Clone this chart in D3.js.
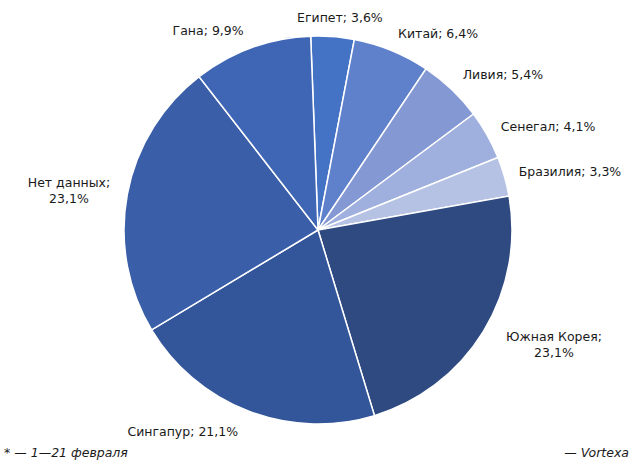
<!DOCTYPE html>
<html>
<head>
<meta charset="utf-8">
<script src="https://cdn.jsdelivr.net/npm/d3@7"></script>
<style>
  body { margin: 0; background: #fff; }
  text { font-family: "DejaVu Sans", sans-serif; fill: #1a1a1a; }
</style>
</head>
<body>
<div id="chart"></div>
<script>
// data, clockwise from top
var countries = ["Египет", "Китай", "Ливия", "Сенегал", "Бразилия", "Южная Корея", "Сингапур", "Нет данных", "Гана"];
var shares = [3.6, 6.4, 5.4, 4.1, 3.3, 23.1, 21.1, 23.1, 9.9];
var sliceColors = ["#4472c4", "#5f80ca", "#8498d4", "#9fb0de", "#b5c2e4", "#2e4a80", "#33559a", "#3a5ea8", "#3f66b5"];
// label layout: [angle deg from top, distance in radii]
var labelPlace = [[5.9, 1.098], [31.5, 1.185], [50.0, 1.244], [65.9, 1.299], [77.0, 1.333],
                  [115.8, 1.351], [213.8, 1.253], [279.1, 1.300], [331.1, 1.172]];
var twoLine = ["Южная Корея", "Нет данных"];

var width = 634, height = 462;
var cx = 318, cy = 230, radius = 194;
var startAngle = -2.16 * Math.PI / 180;

var svg = d3.select("#chart").append("svg")
    .attr("width", width)
    .attr("height", height);

var pie = d3.pie()
    .value(function (d) { return d.v; })
    .sort(null)
    .startAngle(startAngle)
    .endAngle(startAngle + 2 * Math.PI);

var arc = d3.arc().innerRadius(0).outerRadius(radius);

var data = countries.map(function (c, i) { return {name: c, v: shares[i], color: sliceColors[i]}; });

var g = svg.append("g").attr("transform", "translate(" + cx + "," + cy + ")");

g.selectAll("path")
    .data(pie(data))
    .enter()
    .append("path")
    .attr("d", arc)
    .attr("fill", function (d) { return d.data.color; })
    .attr("stroke", "#fff")
    .attr("stroke-width", 1.5);

function fmt(v) { return v.toFixed(1).replace(".", ","); }

var labels = g.selectAll(".lbl")
    .data(pie(data))
    .enter()
    .append("text")
    .attr("class", "lbl")
    .attr("font-size", 12.5)
    .attr("text-anchor", "middle")
    .attr("transform", function (d, i) {
        var a = labelPlace[i][0] * Math.PI / 180, r = labelPlace[i][1] * radius;
        return "translate(" + (Math.sin(a) * r) + "," + (-Math.cos(a) * r) + ")";
    });

labels.each(function (d) {
    var t = d3.select(this);
    var pct = fmt(d.data.v) + "%";
    if (twoLine.indexOf(d.data.name) >= 0) {
        t.append("tspan").attr("x", 0).attr("dy", "-0.25em").text(d.data.name + ";");
        t.append("tspan").attr("x", 0).attr("dy", "1.3em").text(pct);
    } else {
        t.append("tspan").attr("x", 0).attr("dy", "0.35em").text(d.data.name + "; " + pct);
    }
});

svg.append("text")
    .attr("x", 4).attr("y", 457)
    .attr("font-size", 12.5)
    .attr("font-style", "italic")
    .text("* — 1—21 февраля");

svg.append("text")
    .attr("x", 629).attr("y", 457)
    .attr("font-size", 12.5)
    .attr("font-style", "italic")
    .attr("text-anchor", "end")
    .text("— Vortexa");
</script>
</body>
</html>
